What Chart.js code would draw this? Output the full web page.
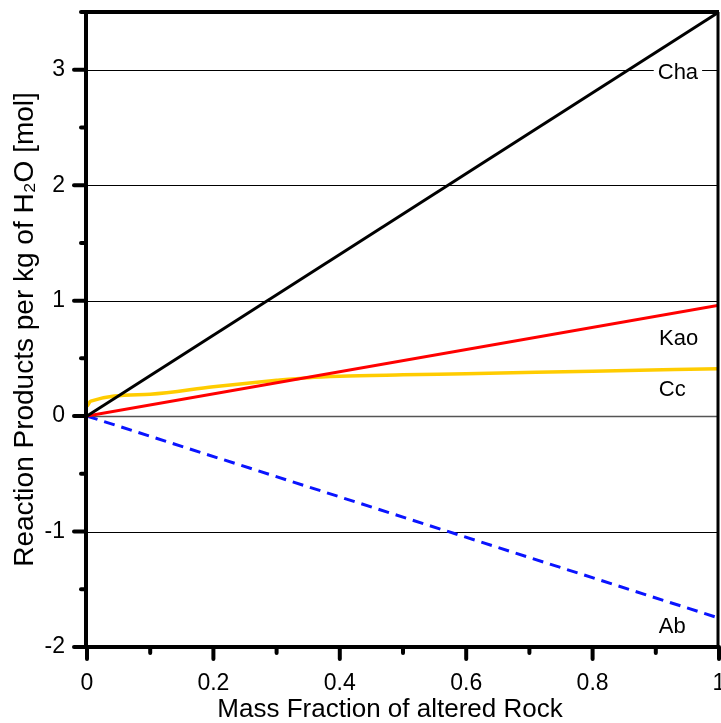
<!DOCTYPE html>
<html>
<head>
<meta charset="utf-8">
<script src="https://cdn.jsdelivr.net/npm/chart.js@4/dist/chart.umd.min.js"></script>
<style>
  html, body { margin: 0; padding: 0; background: #fff; }
  canvas { display: block; }
</style>
</head>
<body>
<canvas id="c" width="721" height="723"></canvas>
<script>
// ---- data ----
const lineX = [0, 1];
const chaY = [0, 3.5];
const kaoY = [0, 0.96];
const abY = [0, -1.75];
const ccX = [0, 0.006, 0.1, 0.2, 0.3, 0.35, 0.4, 0.5, 0.6, 0.8, 1];
const ccY = [0.085, 0.13, 0.19, 0.255, 0.31, 0.333, 0.345, 0.357, 0.367, 0.389, 0.41];
const seriesNames = ['Cha', 'Kao', 'Cc', 'Ab'];
const labelX = [0.935, 0.936, 0.926, 0.926];
const labelY = [2.97, 0.667, 0.225, -1.826];
const gridValues = [3, 2, 1, 0, -1];
const xTitle = 'Mass Fraction of altered Rock';
const yTitle = 'Reaction Products per kg of H\u2082O [mol]';

const toPts = (xs, ys) => xs.map((x, i) => ({x: x, y: ys[i]}));
const FONT = "'Liberation Sans', Arial, sans-serif";

const deco = {
  id: 'deco',
  beforeDatasetsDraw(chart) {
    const {ctx, chartArea: a, scales: {y}} = chart;
    ctx.save();
    gridValues.forEach(v => {
      const py = Math.round(y.getPixelForValue(v)) + 0.5;
      ctx.strokeStyle = v === 0 ? '#555' : '#000';
      ctx.lineWidth = v === 0 ? 1.5 : 1;
      ctx.beginPath(); ctx.moveTo(a.left, py); ctx.lineTo(a.right, py); ctx.stroke();
    });
    ctx.restore();
  },
  afterDatasetsDraw(chart) {
    const {ctx, chartArea: a, scales: {x, y}} = chart;
    ctx.save();
    // series labels
    ctx.font = '22px ' + FONT;
    ctx.textAlign = 'center';
    ctx.textBaseline = 'middle';
    seriesNames.forEach((n, i) => {
      const px = x.getPixelForValue(labelX[i]);
      const py = y.getPixelForValue(labelY[i]);
      const w = ctx.measureText(n).width;
      ctx.fillStyle = '#fff';
      ctx.fillRect(px - w / 2 - 4, py - 11, w + 8, 22);
      ctx.fillStyle = '#000';
      ctx.fillText(n, px, py);
    });
    // x axis title
    ctx.font = '26px ' + FONT;
    ctx.fillText(xTitle, (a.left + a.right) / 2 - 13, x.bottom - 13);
    // frame
    ctx.strokeStyle = '#000';
    ctx.lineCap = 'butt';
    ctx.lineWidth = 3;
    ctx.beginPath(); ctx.moveTo(a.right - 1, a.top); ctx.lineTo(a.right - 1, a.bottom); ctx.stroke();
    ctx.lineWidth = 4;
    ctx.beginPath(); ctx.moveTo(a.left, a.top); ctx.lineTo(a.right, a.top); ctx.stroke();
    ctx.beginPath(); ctx.moveTo(a.left - 1, a.top - 2); ctx.lineTo(a.left - 1, a.bottom + 2); ctx.stroke();
    ctx.beginPath(); ctx.moveTo(a.left - 3, a.bottom); ctx.lineTo(a.right, a.bottom); ctx.stroke();
    // ticks
    ctx.lineCap = 'round';
    ctx.lineWidth = 4;
    y.ticks.forEach(t => {
      const py = y.getPixelForValue(t.value);
      const major = Math.abs(t.value - Math.round(t.value)) < 1e-6;
      ctx.beginPath(); ctx.moveTo(a.left - 1, py); ctx.lineTo(a.left - (major ? 13 : 6), py); ctx.stroke();
    });
    x.ticks.forEach(t => {
      const px = x.getPixelForValue(t.value);
      const major = Math.round(t.value * 10) % 2 === 0;
      ctx.beginPath(); ctx.moveTo(px, a.bottom); ctx.lineTo(px, a.bottom + (major ? 12 : 6)); ctx.stroke();
    });
    ctx.restore();
  }
};

new Chart(document.getElementById('c'), {
  type: 'line',
  data: {
    datasets: [
      {label: 'Cha', data: toPts(lineX, chaY), borderColor: '#000', borderWidth: 3},
      {label: 'Kao', data: toPts(lineX, kaoY), borderColor: '#ff0000', borderWidth: 3},
      {label: 'Cc', data: toPts(ccX, ccY), borderColor: '#ffcc00', borderWidth: 3.5, cubicInterpolationMode: 'monotone'},
      {label: 'Ab', data: toPts(lineX, abY), borderColor: '#0a14ff', borderWidth: 3, borderDash: [11, 7]}
    ]
  },
  options: {
    responsive: false,
    animation: false,
    events: [],
    layout: {padding: {top: 12, right: 2, left: 0, bottom: 0}},
    elements: {point: {radius: 0}, line: {fill: false, tension: 0}},
    plugins: {legend: {display: false}, tooltip: {enabled: false}},
    scales: {
      x: {
        type: 'linear', min: 0, max: 1,
        grid: {display: false, drawTicks: false, tickLength: 0},
        border: {display: false},
        ticks: {
          stepSize: 0.1, autoSkip: false, maxRotation: 0, padding: 23,
          color: '#000', font: {family: FONT, size: 23},
          callback: v => (Math.round(v * 10) % 2 === 0) ? String(Number(v.toFixed(1))) : ''
        },
        title: {display: false, text: xTitle},
        afterFit: s => { s.height = 76; s.paddingLeft = 0; s.paddingRight = 0; }
      },
      y: {
        type: 'linear', min: -2, max: 3.5,
        grid: {display: false, drawTicks: false, tickLength: 0},
        border: {display: false},
        ticks: {
          stepSize: 0.5, autoSkip: false, padding: 22,
          color: '#000', font: {family: FONT, size: 23},
          callback: v => Math.abs(v - Math.round(v)) < 1e-6 ? String(Math.round(v)) : ''
        },
        title: {display: true, text: yTitle, color: '#000', font: {family: FONT, size: 28, lineHeight: 1}, padding: {top: 11, bottom: 0}},
        afterFit: s => { s.width = 87; s.paddingTop = 0; s.paddingBottom = 0; }
      }
    }
  },
  plugins: [deco]
});
</script>
</body>
</html>
